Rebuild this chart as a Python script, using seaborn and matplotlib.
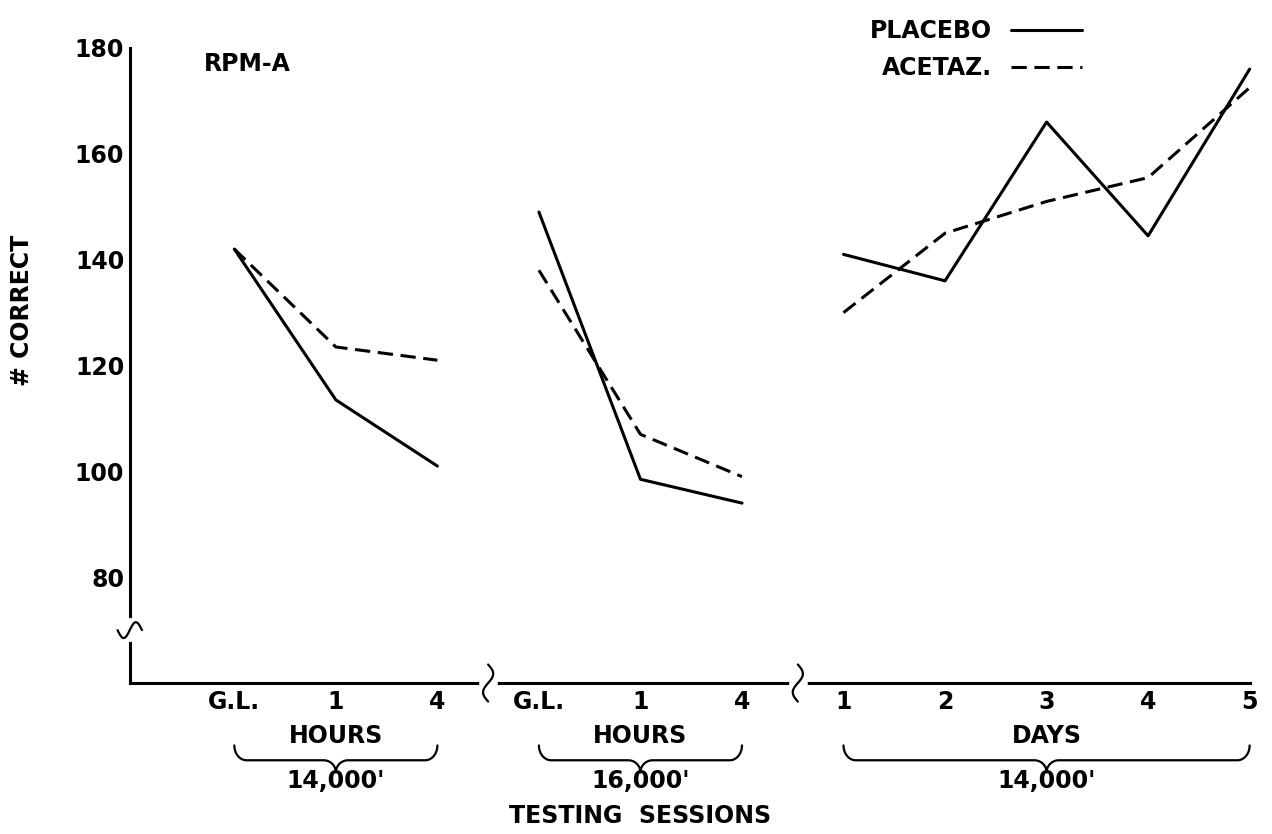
import numpy as np
import pandas as pd
import seaborn as sns
import matplotlib.pyplot as plt
import matplotlib.transforms as mtransforms

# Data
sessions = ['G.L.', '1', '4', 'G.L.', '1', '4', '1', '2', '3', '4', '5']
blocks = ['h14'] * 3 + ['h16'] * 3 + ['d14'] * 5
placebo = [142, 113.5, 101, 149, 98.5, 94, 141, 136, 166, 144.5, 176]
acetaz = [142, 123.5, 121, 138, 107, 99, 130, 145, 151, 155.5, 172.5]
y_ticks = [80, 100, 120, 140, 160, 180]

sns.set_style('white')
plt.rcParams['font.family'] = ['DejaVu Sans']
plt.rcParams['font.weight'] = 'bold'
plt.rcParams['text.color'] = 'black'
plt.rcParams['axes.labelcolor'] = 'black'
plt.rcParams['xtick.color'] = 'black'
plt.rcParams['ytick.color'] = 'black'

pos = list(range(len(sessions)))
df = pd.concat([
    pd.DataFrame({'pos': pos, 'block': blocks, 'value': placebo, 'drug': 'PLACEBO'}),
    pd.DataFrame({'pos': pos, 'block': blocks, 'value': acetaz, 'drug': 'ACETAZ.'}),
])
df['unit'] = df['drug'] + df['block']

fig = plt.figure(figsize=(12.72, 8.34), dpi=100)
ax = fig.add_axes([0.102, 0.181, 0.89, 0.771])

sns.lineplot(data=df, x='pos', y='value', style='drug', units='unit', estimator=None,
             sort=False, color='black', linewidth=2.2, ax=ax,
             dashes={'PLACEBO': '', 'ACETAZ.': (5, 2.5)})

xmin = -1.03
ax.set_xlim(xmin, 10.12)
ax.set_ylim(60, 181.5)

# axes styling
for s in ['top', 'right']:
    ax.spines[s].set_visible(False)
for s in ['left', 'bottom']:
    ax.spines[s].set_linewidth(2.2)
    ax.spines[s].set_color('black')
ax.spines['left'].set_bounds(60, 180)
ax.spines['bottom'].set_bounds(xmin, 10)

ax.set_yticks(y_ticks)
ax.set_xticks(pos)
ax.set_xticklabels(sessions)
ax.tick_params(axis='y', direction='in', length=14, width=2, labelsize=17, pad=4)
ax.tick_params(axis='x', direction='in', length=13, width=1.6, labelsize=17, pad=5)
ax.set_xlabel('')
ax.set_ylabel('# CORRECT', fontsize=17, fontweight='bold')
ax.yaxis.set_label_coords(-0.085, 0.58)

# axis breaks
def break_x(x):
    ax.plot([x - 0.06, x + 0.06], [60, 60], color='white', lw=5, clip_on=False, zorder=5)
    t = np.linspace(-1, 1, 30)
    ax.plot(x + 0.05 * np.sin(np.pi * t), 60 + 3.5 * t, color='black', lw=1.6,
            clip_on=False, zorder=6)

def break_y(y):
    ax.plot([xmin, xmin], [y - 1.5, y + 1.5], color='white', lw=6, clip_on=False, zorder=5)
    t = np.linspace(-1, 1, 30)
    ax.plot(xmin + 0.12 * t, y + 1.5 * np.sin(np.pi * t), color='black', lw=1.6,
            clip_on=False, zorder=6)

break_x(2.5)
break_x(5.55)
break_y(70)

# underbraces (data x, axes y)
trans = mtransforms.blended_transform_factory(ax.transData, ax.transAxes)

def underbrace(x0, x1, ytop, h):
    xm = (x0 + x1) / 2
    r = 0.12
    ybar = ytop - h * 0.55
    ytip = ytop - h
    t = np.linspace(0, np.pi / 2, 15)
    hook = np.c_[x0 + r * (1 - np.cos(t)), ybar + (ytop - ybar) * (1 - np.sin(t))]
    cusp = np.c_[xm - r * (1 - np.sin(t)), ybar - (ybar - ytip) * (1 - np.cos(t))]
    half = np.r_[hook, cusp]
    pts = np.r_[half, np.c_[2 * xm - half[::-1, 0], half[::-1, 1]]]
    ax.plot(pts[:, 0], pts[:, 1], color='black', lw=1.6, transform=trans, clip_on=False)

groups = [(0, 2, 'HOURS', "14,000'"), (3, 5, 'HOURS', "16,000'"), (6, 10, 'DAYS', "14,000'")]
for x0, x1, unit, alt in groups:
    xm = (x0 + x1) / 2
    ax.text(xm, -0.083, unit, transform=trans, ha='center', va='center', fontsize=17)
    underbrace(x0, x1, -0.097, 0.042)
    ax.text(xm, -0.152, alt, transform=trans, ha='center', va='center', fontsize=17)

ax.text(4, -0.207, 'TESTING  SESSIONS', transform=trans, ha='center', va='center', fontsize=17)

ax.text(-0.3, 177, 'RPM-A', ha='left', va='center', fontsize=17)

leg = ax.legend(loc='upper right', bbox_to_anchor=(0.86, 1.065), frameon=False,
                markerfirst=False, fontsize=17, handlelength=3, handletextpad=0.8,
                labelspacing=0.55)
for line in leg.get_lines():
    line.set_linewidth(2.2)

fig.savefig('out.png', dpi=100)
